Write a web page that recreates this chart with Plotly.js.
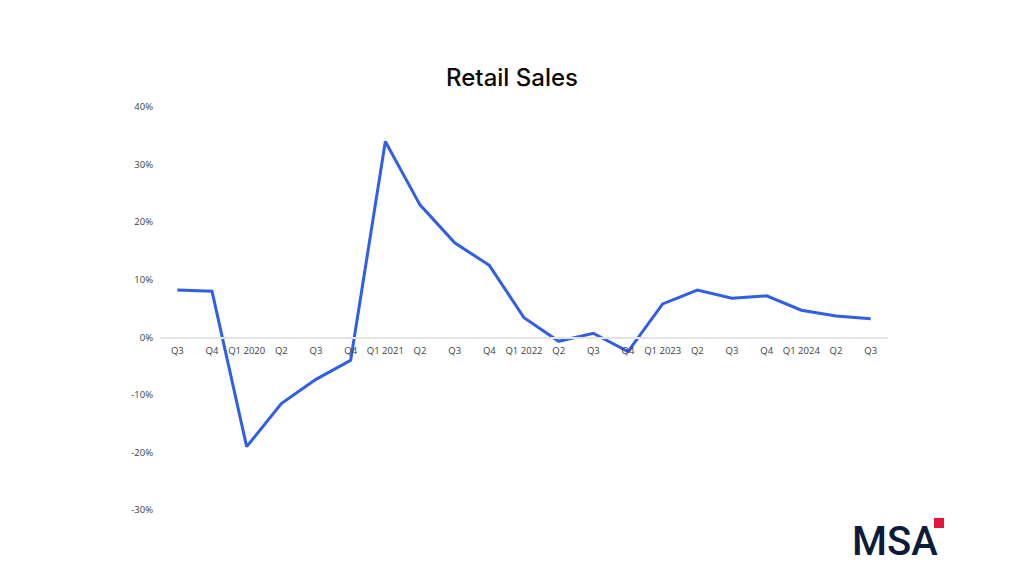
<!DOCTYPE html>
<html>
<head>
<meta charset="utf-8">
<script src="https://cdn.plot.ly/plotly-3.0.1.min.js"></script>
<style>
  html, body { margin: 0; padding: 0; background: #ffffff; }
  #chart { width: 1024px; height: 576px; }
</style>
</head>
<body>
<div id="chart"></div>
<script>
// Quarter labels (Q3 2019 .. Q3 2024)
const quarters = ["Q3", "Q4", "Q1 2020", "Q2", "Q3", "Q4", "Q1 2021", "Q2", "Q3", "Q4",
  "Q1 2022", "Q2", "Q3", "Q4", "Q1 2023", "Q2", "Q3", "Q4", "Q1 2024", "Q2", "Q3"];
// Year-on-year retail sales growth (%)
const salesGrowth = [8.2, 8.0, -19.0, -11.5, -7.3, -4.0, 34.0, 23.0, 16.4, 12.5,
  3.4, -0.7, 0.7, -2.5, 5.8, 8.2, 6.8, 7.2, 4.7, 3.7, 3.2];
const yTickVals = [-30, -20, -10, 0, 10, 20, 30, 40];
const yTickText = ["-30%", "-20%", "-10%", "0%", "10%", "20%", "30%", "40%"];

const yMin = -30, yMax = 40;
const xIdx = quarters.map((_, i) => i);

const trace = {
  x: xIdx,
  y: salesGrowth,
  type: "scatter",
  mode: "lines",
  line: { color: "#2f5fe6", width: 3 },
  hoverinfo: "skip"
};

const layout = {
  width: 1024,
  height: 576,
  paper_bgcolor: "#ffffff",
  plot_bgcolor: "#ffffff",
  margin: { l: 160, r: 136, t: 107, b: 66 },
  showlegend: false,
  title: {
    text: "Retail Sales",
    font: { family: "Inter, 'Noto Sans', sans-serif", size: 24, weight: 500, color: "#0a0a0a" },
    x: 0.5, xanchor: "center",
    y: 1 - 78 / 576, yref: "container", yanchor: "middle"
  },
  xaxis: {
    type: "linear",
    range: [-0.5, quarters.length - 0.5],
    tickmode: "array",
    tickvals: xIdx,
    ticktext: quarters,
    anchor: "free",
    position: (0 - yMin) / (yMax - yMin),
    showline: true,
    linecolor: "#e3e3e3",
    linewidth: 1.5,
    showgrid: false,
    zeroline: false,
    ticks: "",
    ticklabelstandoff: 4,
    tickfont: { family: "'Open Sans', 'Liberation Sans', sans-serif", size: 9.5, color: "#404040" },
    fixedrange: true
  },
  yaxis: {
    range: [yMin, yMax],
    tickmode: "array",
    tickvals: yTickVals,
    ticktext: yTickText,
    showgrid: false,
    zeroline: false,
    showline: false,
    ticks: "",
    ticklabelstandoff: 6,
    tickfont: { family: "'Open Sans', 'Liberation Sans', sans-serif", size: 9.5, color: "#404040" },
    fixedrange: true
  },
  annotations: [{
    text: "MSA",
    xref: "paper", yref: "paper",
    x: (895 - 160) / 728, y: (510 - 541) / 403,
    xanchor: "center", yanchor: "middle",
    showarrow: false,
    font: { family: "Roboto, 'Liberation Sans', sans-serif", size: 40, weight: 500, color: "#0d1b3a" }
  }],
  shapes: [{
    type: "rect",
    xref: "paper", yref: "paper",
    x0: (934 - 160) / 728, x1: (944 - 160) / 728,
    y0: (510 - 518) / 403, y1: (510 - 528) / 403,
    fillcolor: "#e8143c", line: { width: 0 }
  }]
};

Plotly.newPlot("chart", [trace], layout, { displayModeBar: false, staticPlot: true });
</script>
</body>
</html>
